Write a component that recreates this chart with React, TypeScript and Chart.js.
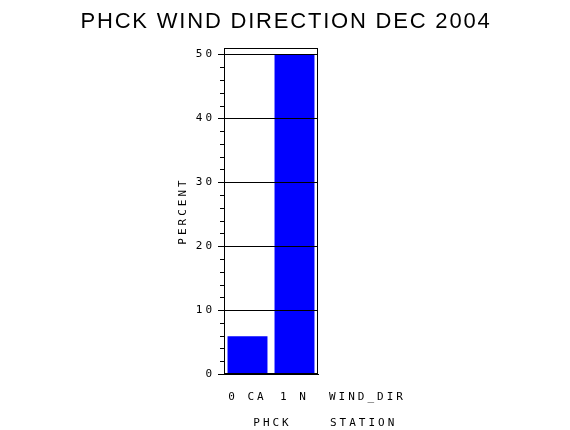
import React, { useEffect, useRef } from "react";
import { Chart, registerables } from "chart.js";

Chart.register(...registerables);

const categories = ["0 CA", "1 N"];
const percentValues = [5.9, 50];
const yTickValues = [0, 10, 20, 30, 40, 50];
const yMax = 51;
const minorStep = 2;
const titleText = "PHCK WIND DIRECTION DEC 2004";
const yAxisTitle = "PERCENT";
const groupVariable = "WIND_DIR";
const stationLabel = "PHCK";
const stationVariable = "STATION";

const MONO = '"DejaVu Sans Mono", monospace';

const sasPlugin = {
  id: "sasDecor",
  beforeDraw(chart: any) {
    chart.ctx.letterSpacing = "3px";
  },
  afterDatasetsDraw(chart: any) {
    const { ctx, chartArea, scales } = chart;
    const y = scales.y;
    const left = Math.round(chartArea.left);
    ctx.save();
    ctx.strokeStyle = "#000";
    ctx.lineWidth = 1;
    for (const v of yTickValues) {
      if (v === 0) continue;
      const py = Math.round(y.getPixelForValue(v)) + 0.5;
      ctx.beginPath();
      ctx.moveTo(chartArea.left, py);
      ctx.lineTo(chartArea.right, py);
      ctx.stroke();
    }
    const top = yTickValues[yTickValues.length - 1];
    for (let v = 0; v <= top; v += minorStep) {
      if (v % 10 === 0) continue;
      const py = Math.round(y.getPixelForValue(v)) + 0.5;
      ctx.beginPath();
      ctx.moveTo(left - 4, py);
      ctx.lineTo(left, py);
      ctx.stroke();
    }
    ctx.strokeRect(
      left + 0.5,
      Math.round(chartArea.top) + 0.5,
      Math.round(chartArea.right) - left - 1,
      Math.round(chartArea.bottom) - Math.round(chartArea.top) - 1
    );
    ctx.restore();
  },
  afterDraw(chart: any) {
    const { ctx, chartArea } = chart;
    ctx.save();
    ctx.fillStyle = "#000";
    ctx.letterSpacing = "1.8px";
    ctx.font = '22px "Liberation Sans", Arial, sans-serif';
    ctx.textAlign = "center";
    ctx.textBaseline = "alphabetic";
    ctx.fillText(titleText, chart.width / 2 + 1, 28);

    ctx.letterSpacing = "3px";
    ctx.font = "11px " + MONO;
    ctx.textAlign = "left";
    ctx.fillText(groupVariable, chartArea.right + 11, 400);
    ctx.fillText(stationVariable, chartArea.right + 12, 426);
    ctx.textAlign = "center";
    ctx.fillText(stationLabel, (chartArea.left + chartArea.right) / 2 + 1.5, 426);
    ctx.restore();
  },
};

export default function App() {
  const ref = useRef<HTMLCanvasElement | null>(null);

  useEffect(() => {
    if (!ref.current) return;
    const chart = new Chart(ref.current, {
      type: "bar",
      data: {
        labels: categories,
        datasets: [
          {
            data: percentValues,
            backgroundColor: "#0000ff",
            borderWidth: 0,
            barPercentage: 0.85,
            categoryPercentage: 1,
          },
        ],
      },
      options: {
        animation: false,
        responsive: false,
        devicePixelRatio: 1,
        layout: { padding: { left: 174, right: 252, top: 48, bottom: 0 } },
        plugins: {
          legend: { display: false },
          tooltip: { enabled: false },
          title: { display: false },
        },
        scales: {
          x: {
            afterFit: (s: any) => {
              s.height = 56;
            },
            grid: { display: false, drawTicks: false },
            border: { display: true, color: "#000" },
            ticks: {
              color: "#000",
              font: { family: MONO, size: 11 },
              padding: 17,
              maxRotation: 0,
              autoSkip: false,
            },
          },
          y: {
            min: 0,
            max: yMax,
            afterFit: (s: any) => {
              s.width = 50;
            },
            afterBuildTicks: (s: any) => {
              s.ticks = yTickValues.map((v) => ({ value: v }));
            },
            grid: {
              drawOnChartArea: false,
              drawTicks: true,
              tickLength: 6,
              color: "#000",
            },
            border: { display: true, color: "#000" },
            ticks: {
              color: "#000",
              font: { family: MONO, size: 11 },
              padding: 3,
            },
            title: {
              display: true,
              text: yAxisTitle,
              color: "#000",
              font: { family: MONO, size: 11 },
              padding: { top: 3, bottom: 0 },
            },
          },
        },
      },
      plugins: [sasPlugin],
    });
    return () => chart.destroy();
  }, []);

  return (
    <div style={{ position: "absolute", left: 0, top: 0, width: 570, height: 430, background: "#fff" }}>
      <canvas ref={ref} width={570} height={430} />
    </div>
  );
}
